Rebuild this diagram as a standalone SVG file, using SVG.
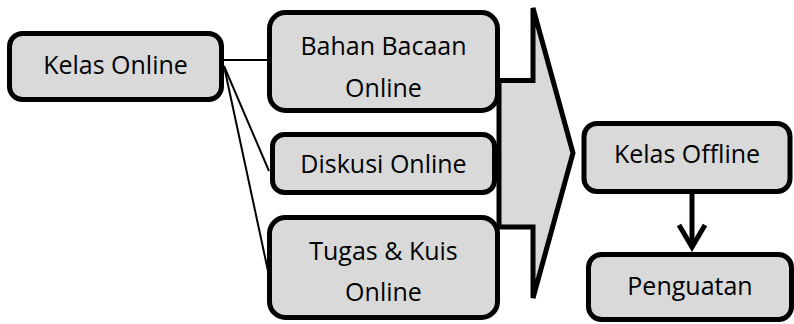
<svg xmlns="http://www.w3.org/2000/svg" width="794" height="324" viewBox="0 0 794 324">
<style>
.box{fill:#d9d9d9;stroke:#000;stroke-width:5}
.t{font-family:"Open Sans","Liberation Sans",sans-serif;font-size:25px;fill:#000;text-anchor:middle}
.c{stroke:#000;stroke-width:2;fill:none}
</style>
<rect width="794" height="324" fill="#fff"/>
<g id="connectors">
<line class="c" x1="224" y1="60" x2="274" y2="60"/>
<line class="c" x1="224" y1="66" x2="269" y2="171"/>
<line class="c" x1="224" y1="66" x2="268" y2="271"/>
<path d="M692,194 V247" stroke="#000" stroke-width="5" fill="none"/>
<path d="M679,225 L692,247 L705,225" stroke="#000" stroke-width="5" fill="none" stroke-linejoin="miter"/>
</g>
<g id="big-arrow">
<polygon points="499,80.5 533,80.5 533,8 573,153 533,298 533,227 499,227" fill="#d9d9d9" stroke="#000" stroke-width="5" stroke-linejoin="miter"/>
</g>
<g id="kelas-online">
<rect class="box" x="9.5" y="33.5" width="212" height="66" rx="13"/>
<text class="t" x="115.5" y="74">Kelas Online</text>
</g>
<g id="bahan-bacaan">
<rect class="box" x="269.5" y="12.5" width="228" height="98" rx="16"/>
<text class="t" x="383.5" y="55">Bahan Bacaan</text>
<text class="t" x="383.5" y="97">Online</text>
</g>
<g id="diskusi">
<rect class="box" x="272.5" y="134.5" width="222" height="58" rx="12"/>
<text class="t" x="383.5" y="173">Diskusi Online</text>
</g>
<g id="tugas">
<rect class="box" x="269.5" y="217.5" width="228" height="100" rx="16"/>
<text class="t" x="383.5" y="260">Tugas &amp; Kuis</text>
<text class="t" x="383.5" y="301">Online</text>
</g>
<g id="kelas-offline">
<rect class="box" x="584" y="123.5" width="206" height="68" rx="13"/>
<text class="t" x="687" y="163">Kelas Offline</text>
</g>
<g id="penguatan">
<rect class="box" x="588.5" y="254.5" width="203" height="65" rx="13"/>
<text class="t" x="690" y="295">Penguatan</text>
</g>
</svg>
